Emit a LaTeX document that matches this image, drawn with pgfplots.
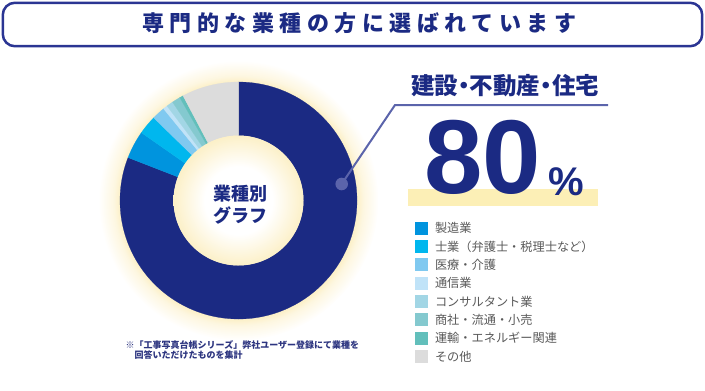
\documentclass[border=0pt]{standalone}
\usepackage{pgfplots}
\pgfplotsset{compat=1.18}
\usepackage{pgfplotstable}
\usepackage{fontspec}
\setmainfont{Noto Sans CJK JP}
\newfontfamily\numfont{Liberation Sans}
\definecolor{navy}{HTML}{1B2A83}
\definecolor{c1}{HTML}{0094DE}
\definecolor{c2}{HTML}{00B7EE}
\definecolor{c3}{HTML}{80C9F0}
\definecolor{c4}{HTML}{C0E3F8}
\definecolor{c5}{HTML}{A2D6E5}
\definecolor{c6}{HTML}{84C9CF}
\definecolor{c7}{HTML}{62BFBB}
\definecolor{c8}{HTML}{DCDCDC}
\definecolor{lead}{HTML}{5B64AB}
\definecolor{boxc}{HTML}{2B3593}
\definecolor{glowY}{RGB}{252,240,200}
\definecolor{barY}{HTML}{FCEFB6}
\definecolor{legtext}{HTML}{595959}
\definecolor{notec}{HTML}{2D3580}
\pgfdeclareradialshading{outerglow}{\pgfpoint{0bp}{0bp}}{color(0bp)=(glowY); color(21.2bp)=(glowY); color(22.3bp)=(glowY!55!white); color(25bp)=(white); color(50bp)=(white)}
\pgfdeclareradialshading{holeglow}{\pgfpoint{0bp}{0bp}}{color(0bp)=(white); color(13bp)=(white); color(25bp)=(glowY); color(50bp)=(glowY)}
\pgfplotstableread{
share color
80.9 navy
3.8 c1
2.6 c2
1.8 c3
0.6 c4
0.9 c5
1.15 c6
0.5 c7
7.75 c8
}\slices
\begin{document}
\begin{tikzpicture}
\useasboundingbox (0,0) rectangle (705pt,391pt);
\begin{axis}[
  at={(0,0)}, anchor=south west,
  scale only axis, width=705pt, height=391pt,
  xmin=0, xmax=705, ymin=0, ymax=391, y dir=reverse,
  hide axis, clip=false,
  legend image code/.code={\fill[#1] (0pt,-6.5pt) rectangle (13pt,6.5pt);},
  legend cell align=left,
  legend style={at={(axis description cs:0.58865,0.43274)}, anchor=north west,
    draw=none, fill=none, inner sep=0pt, outer sep=0pt,
    row sep=5.33pt, column sep=7pt,
    font=\fontsize{12.2}{14}\selectfont,
    nodes={inner sep=0pt, text height=10.9pt, text depth=1.7pt, text=legtext}},
]
% glow behind the donut
\path[shade, shading=outerglow] (axis cs:238.5,200.5) circle[radius=140pt];
% donut slices
\gdef\cum{0}
\pgfplotsinvokeforeach{0,...,8}{%
  \pgfplotstablegetelem{#1}{share}\of\slices \let\sv\pgfplotsretval
  \pgfplotstablegetelem{#1}{color}\of\slices \let\sc\pgfplotsretval
  \pgfmathsetmacro\angA{90-3.6*\cum}%
  \pgfmathsetmacro\angB{90-3.6*(\cum+\sv)}%
  \pgfmathsetmacro\newcum{\cum+\sv}%
  \global\let\cum\newcum
  \edef\temp{\noexpand\fill[\sc, draw=\sc, line width=0.2pt] (axis cs:238.5,200.5) ++(\angA:118.5pt) arc[start angle=\angA, end angle=\angB, radius=118.5pt] -- ++(\angB:-53.5pt) arc[start angle=\angB, end angle=\angA, radius=65pt] -- cycle;}%
  \temp
}
% hole
\path[shade, shading=holeglow] (axis cs:238.5,200.5) circle[radius=65pt];
\node[font=\fontsize{18}{20}\selectfont\bfseries, text=navy, inner sep=0pt] at (axis cs:240,193.3) {業種別};
\node[font=\fontsize{18}{20}\selectfont\bfseries, text=navy, inner sep=0pt] at (axis cs:240,215.7) {グラフ};
% leader
\draw[lead, line width=2pt] (axis cs:341.7,184) -- (axis cs:395,105) -- (axis cs:608,105);
\fill[lead] (axis cs:341.7,184) circle[radius=6.3pt];
% big number
\fill[barY] (axis cs:408,189) rectangle (axis cs:598,206);
\node[font=\fontsize{23.5}{26}\selectfont\bfseries\addfontfeature{RawFeature=+palt}, text=navy, inner sep=0pt] at (axis cs:505,86) {建設・不動産・住宅};
\node[anchor=base, inner sep=0pt, font=\fontsize{105}{105}\selectfont\numfont\bfseries, text=navy] at (axis cs:482.5,193) {80};
\node[anchor=base, inner sep=0pt, font=\fontsize{40}{40}\selectfont\numfont\bfseries, text=navy] at (axis cs:566.5,195) {\%};
% footnote
\node[anchor=west, inner sep=0pt, font=\fontsize{9}{10}\selectfont\bfseries, text=notec] at (axis cs:125.5,345) {※「工事写真台帳シリーズ」弊社ユーザー登録にて業種を};
\node[anchor=west, inner sep=0pt, font=\fontsize{9}{10}\selectfont\bfseries, text=notec] at (axis cs:134.5,355.5) {回答いただけたものを集計};
% title
\draw[boxc, line width=2.5pt, rounded corners=12pt] (axis cs:2.8,2.8) rectangle (axis cs:702.2,46.2);
\node[anchor=west, inner sep=0pt, font=\fontsize{22}{24}\selectfont\bfseries\addfontfeature{LetterSpace=25}, text=navy] at (axis cs:142,22.8) {専門的な業種の方に選ばれています};
% legend
\addlegendimage{fill=c1, draw=none}\addlegendentry{製造業}
\addlegendimage{fill=c2, draw=none}\addlegendentry{士業（弁護士・税理士など）}
\addlegendimage{fill=c3, draw=none}\addlegendentry{医療・介護}
\addlegendimage{fill=c4, draw=none}\addlegendentry{通信業}
\addlegendimage{fill=c5, draw=none}\addlegendentry{コンサルタント業}
\addlegendimage{fill=c6, draw=none}\addlegendentry{商社・流通・小売}
\addlegendimage{fill=c7, draw=none}\addlegendentry{運輸・エネルギー関連}
\addlegendimage{fill=c8, draw=none}\addlegendentry{その他}
\end{axis}
\end{tikzpicture}
\end{document}
